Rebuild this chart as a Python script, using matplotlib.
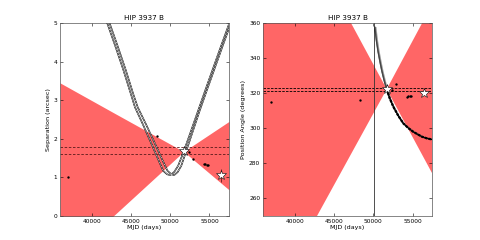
import numpy as np
import matplotlib
matplotlib.use("Agg")
import matplotlib.pyplot as plt

# ---------------- data ----------------
title = "HIP 3937 B"
xlim = (35950, 57480)
xticks = [40000, 45000, 50000, 55000]

# Separation panel
sep_ylim = (0, 5)
sep_yticks = [0, 1, 2, 3, 4, 5]
shade_x = [35950, 42740, 51709, 57480]
sep_b1 = [3.45, 2.68, 1.67, 0.68]
sep_b2 = [-1.26, 0.0, 1.67, 2.45]
sep_dash = [1.79, 1.60]
sep_track_x1 = [41700, 42000, 43000, 44000, 45000, 45500, 46500, 47500, 48500, 49100,
                49600, 50000, 50500, 51000, 51700, 52500, 53500, 54500, 55500, 56500, 57500]
sep_track_x2 = [42000, 42300, 43300, 44300, 45300, 45850, 46900, 47950, 49000, 49650,
                50150, 50500, 50950, 51400, 52000, 52750, 53700, 54700, 55700, 56700, 57700]
sep_track = [5.1, 4.98, 4.4, 3.8, 3.15, 2.82, 2.38, 1.92, 1.45, 1.17,
             1.08, 1.06, 1.14, 1.3, 1.66, 2.12, 2.7, 3.28, 3.85, 4.42, 4.98]
obs_dates = [36930, 48290, 52420, 52850, 54250, 54450, 54650, 54850]
obs_sep = [1.0, 2.07, 1.65, 1.48, 1.36, 1.35, 1.33, 1.31]
star_dates = [51709, 56460]
star_sep = [1.68, 1.06]
star_sep_err = [0.0, 0.17]

# Position angle panel
pa_ylim = (250, 360)
pa_yticks = [260, 280, 300, 320, 340, 360]
pa_shade_x = [35950, 51709, 57480]
pa_b1 = [453.0, 322.3, 274.5]
pa_b2 = [194.0, 322.3, 370.5]
pa_dash = [323.0, 321.5]
pa_vline = 50050
pa_track_x1 = [50200, 50400, 50600, 50850, 51100, 51400, 51700, 52100, 52550, 53200,
               53824, 54500, 55100, 55600, 56200, 56800, 57480]
pa_track_x2 = [50350, 50550, 50750, 51000, 51250, 51550, 51800, 52200, 52650, 53300,
               53924, 54600, 55200, 55700, 56300, 56900, 57580]
pa_track = [357.5, 350, 344, 338, 332.5, 327, 322.3, 317, 312.3, 307,
            302.8, 300, 298, 296.7, 295.2, 294.3, 293.6]
obs_pa = [315.0, 316.1, 322.0, 325.5, 318.0, 318.3, 318.5, 318.6]
star_pa = [322.2, 320.3]

# ---------------- plot ----------------
plt.rcParams['font.family'] = ['DejaVu Sans']
fig = plt.figure(figsize=(4.8, 2.4), dpi=100)
ax1 = fig.add_axes([0.125, 0.1, 0.352, 0.804])
ax2 = fig.add_axes([0.548, 0.1, 0.352, 0.804])

red = '#ff6666'

def style(ax):
    ax.tick_params(direction='in', length=2, width=0.4, labelsize=4.2,
                   top=True, right=True, pad=2)
    for s in ax.spines.values():
        s.set_linewidth(0.5)
        s.set_color('#555555')
    ax.set_xlim(*xlim)
    ax.set_xticks(xticks)
    ax.set_xlabel("MJD (days)", fontsize=4.6, labelpad=1)
    ax.set_title(title, fontsize=5.2, pad=2)

# Separation
xs = np.array(shade_x)
b1 = np.array(sep_b1); b2 = np.array(sep_b2)
ax1.fill_between(xs, np.minimum(b1, b2), np.maximum(b1, b2), color=red, lw=0)
for y in sep_dash:
    ax1.axhline(y, color='#5a1a1a', ls='--', lw=0.6, dashes=(3, 2))
for tx in (sep_track_x1, sep_track_x2):
    ax1.plot(tx, sep_track, color='black', lw=1.1, solid_joinstyle='round')
for tx in (sep_track_x1, sep_track_x2):
    ax1.plot(tx, sep_track, color='white', lw=0.55, dashes=(1.4, 0.6))
ax1.plot(obs_dates, obs_sep, 'o', color='black', ms=1.7, mew=0)
ax1.errorbar(star_dates, star_sep, yerr=star_sep_err, fmt='none', ecolor='#602020', elinewidth=0.6)
ax1.plot(star_dates, star_sep, '*', mfc='white', mec='black', mew=0.4, ms=7)
ax1.set_ylim(*sep_ylim)
ax1.set_yticks(sep_yticks)
ax1.set_ylabel("Separation (arcsec)", fontsize=4.6, labelpad=2)
style(ax1)

# Position angle
xs = np.array(pa_shade_x)
b1 = np.array(pa_b1); b2 = np.array(pa_b2)
ax2.fill_between(xs, np.minimum(b1, b2), np.maximum(b1, b2), color=red, lw=0)
for y in pa_dash:
    ax2.axhline(y, color='black', ls='--', lw=0.6, dashes=(3, 1.5))
ax2.axvline(pa_vline, color='#333333', lw=0.6)
ax2.plot(pa_track_x2, pa_track, color='#999999', lw=0.6)
ax2.plot(pa_track_x1, pa_track, color='black', lw=1.0)
ax2.plot(pa_track_x1[6:], pa_track[6:], color='black', lw=1.6,
         dashes=(1.2, 0.5))
ax2.plot(pa_track_x1[:7], pa_track[:7], color='#dddddd', lw=0.4, dashes=(1.0, 0.8))
ax2.plot(obs_dates, obs_pa, 'o', color='black', ms=1.7, mew=0)
ax2.plot(star_dates, star_pa, '*', mfc='white', mec='black', mew=0.4, ms=7)
ax2.set_ylim(*pa_ylim)
ax2.set_yticks(pa_yticks)
ax2.set_ylabel("Position Angle (degrees)", fontsize=4.6, labelpad=2)
style(ax2)

fig.savefig("out.png", dpi=100)
